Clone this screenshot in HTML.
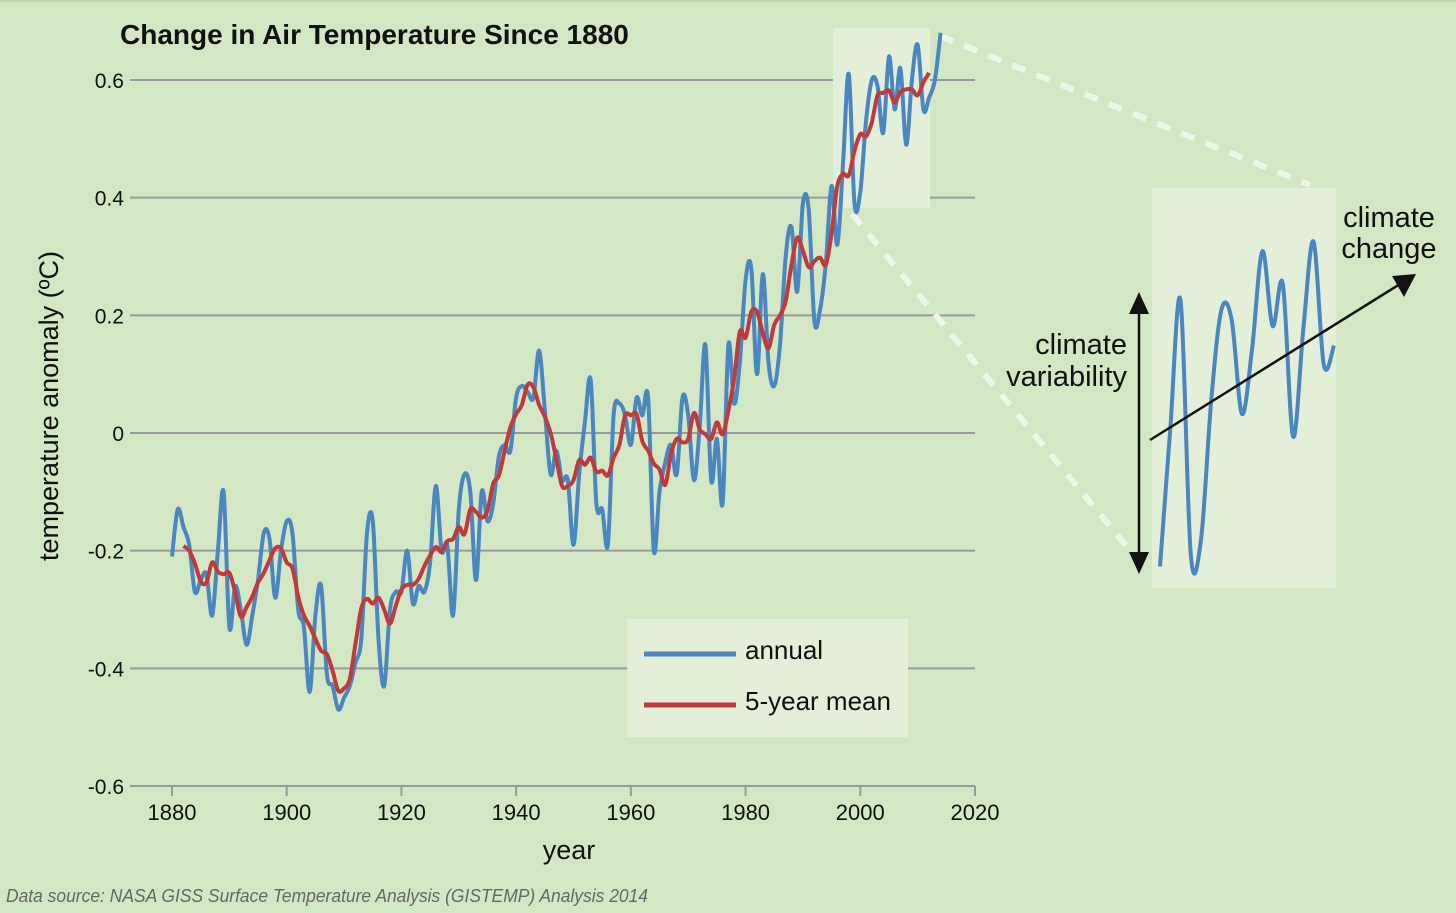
<!DOCTYPE html>
<html><head><meta charset="utf-8"><style>
html,body{margin:0;padding:0;background:#d3e7c4;}
svg{display:block;font-family:"Liberation Sans",sans-serif;}
</style></head><body>
<svg id="chart" width="1456" height="913" viewBox="0 0 1456 913">
<rect x="0" y="0" width="1456" height="913" fill="#d3e7c4"/>
<rect x="0" y="0" width="1456" height="2" fill="#b8d8a8"/>
<g id="grid"></g>
<rect x="833" y="28" width="97" height="180" fill="#e3efd9"/>
<rect x="1152" y="188" width="184" height="400" fill="#e3efd9"/>
<line x1="940" y1="36" x2="1310" y2="185" stroke="#eef6e8" stroke-width="6" stroke-dasharray="14,12"/>
<line x1="852" y1="214" x2="1128" y2="548" stroke="#eef6e8" stroke-width="6" stroke-dasharray="14,12"/>
<g id="axes"></g>
<g id="series"></g>
<text x="120" y="44" font-size="28" font-weight="bold" fill="#111">Change in Air Temperature Since 1880</text>
<text x="0" y="0" transform="translate(58,406) rotate(-90)" text-anchor="middle" font-size="27" fill="#111">temperature anomaly (ºC)</text>
<text x="569" y="859" text-anchor="middle" font-size="27" fill="#111">year</text>
<text x="6" y="902" font-size="18" font-style="italic" fill="#666" textLength="642" lengthAdjust="spacingAndGlyphs">Data source: NASA GISS Surface Temperature Analysis (GISTEMP) Analysis 2014</text>
<g>
<rect x="627" y="619" width="281" height="118" fill="#e3efd9"/>
<line x1="644" y1="654" x2="736" y2="654" stroke="#4a86c0" stroke-width="5"/>
<text x="745" y="659" font-size="26" fill="#111">annual</text>
<line x1="644" y1="705" x2="736" y2="705" stroke="#c0393b" stroke-width="5"/>
<text x="745" y="710" font-size="26" fill="#111">5-year mean</text>
</g>
<g id="inset"></g>
<text x="1389" y="227" text-anchor="middle" font-size="29" fill="#111">climate</text>
<text x="1389" y="258" text-anchor="middle" font-size="29" fill="#111">change</text>
<text x="1127" y="354" text-anchor="end" font-size="29" fill="#111">climate</text>
<text x="1127" y="386" text-anchor="end" font-size="29" fill="#111">variability</text>
</svg>
<script>
const years=[];for(let y=1880;y<=2014;y++)years.push(y);
const annual=[-0.21,-0.13,-0.16,-0.19,-0.27,-0.25,-0.24,-0.31,-0.2,-0.1,-0.33,-0.26,-0.3,-0.36,-0.31,-0.25,-0.17,-0.18,-0.28,-0.2,-0.15,-0.17,-0.3,-0.33,-0.44,-0.31,-0.26,-0.41,-0.43,-0.47,-0.45,-0.43,-0.39,-0.35,-0.17,-0.15,-0.35,-0.43,-0.3,-0.27,-0.27,-0.2,-0.29,-0.26,-0.27,-0.22,-0.09,-0.2,-0.19,-0.31,-0.13,-0.07,-0.1,-0.25,-0.1,-0.15,-0.12,-0.04,-0.02,-0.03,0.06,0.08,0.07,0.06,0.14,0.04,-0.07,-0.03,-0.08,-0.08,-0.19,-0.07,0.02,0.09,-0.12,-0.13,-0.19,0.03,0.05,0.03,-0.02,0.06,0.03,0.06,-0.2,-0.1,-0.05,-0.02,-0.07,0.06,0.03,-0.08,0.01,0.15,-0.08,-0.01,-0.12,0.15,0.05,0.12,0.26,0.28,0.1,0.27,0.12,0.08,0.15,0.3,0.35,0.24,0.39,0.38,0.19,0.21,0.29,0.42,0.32,0.46,0.61,0.39,0.41,0.53,0.6,0.59,0.51,0.64,0.55,0.62,0.49,0.6,0.66,0.55,0.57,0.6,0.68];
const yTicks=[-0.6,-0.4,-0.2,0,0.2,0.4,0.6];
const yTickLabels=["-0.6","-0.4","-0.2","0","0.2","0.4","0.6"];
const xTicks=[1880,1900,1920,1940,1960,1980,2000,2020];
const insetVals=[-0.42,0,0.4,-0.38,-0.34,0.09,0.37,0.34,0.05,0.25,0.55,0.32,0.45,-0.02,0.31,0.58,0.2,0.26];
const NS="http://www.w3.org/2000/svg";
const X=y=>172+(y-1880)*(975-172)/140;
const Y=v=>433-v*(433-80)/0.6;
function mk(tag,attrs,parent){const e=document.createElementNS(NS,tag);for(const k in attrs)e.setAttribute(k,attrs[k]);parent.appendChild(e);return e;}
function smooth(pts){let d="M"+pts[0][0].toFixed(1)+","+pts[0][1].toFixed(1);
for(let i=0;i<pts.length-1;i++){const p0=pts[Math.max(0,i-1)],p1=pts[i],p2=pts[i+1],p3=pts[Math.min(pts.length-1,i+2)];
const c1=[p1[0]+(p2[0]-p0[0])/6,p1[1]+(p2[1]-p0[1])/6],c2=[p2[0]-(p3[0]-p1[0])/6,p2[1]-(p3[1]-p1[1])/6];
d+=" C"+c1[0].toFixed(1)+","+c1[1].toFixed(1)+" "+c2[0].toFixed(1)+","+c2[1].toFixed(1)+" "+p2[0].toFixed(1)+","+p2[1].toFixed(1);}return d;}
const grid=document.getElementById('grid'),axes=document.getElementById('axes'),series=document.getElementById('series'),inset=document.getElementById('inset');
yTicks.forEach((t,i)=>{
const l=mk('line',{x1:130,x2:975,y1:Y(t),y2:Y(t),stroke:'#9a9a9a','stroke-width':2},grid);


const tx=mk('text',{x:124,y:Y(t)+8,'text-anchor':'end','font-size':21,fill:'#111'},axes);tx.textContent=yTickLabels[i];


});
xTicks.forEach(t=>{
const l=mk('line',{x1:X(t),x2:X(t),y1:786,y2:796,stroke:'#9a9a9a','stroke-width':2},axes);


const tx=mk('text',{x:X(t),y:820,'text-anchor':'middle','font-size':22,fill:'#111'},axes);tx.textContent=t;


});
const a=mk('path',{d:smooth(years.map((y,i)=>[X(y),Y(annual[i])])),fill:'none',stroke:'#4a86c0','stroke-width':4,'stroke-linejoin':'round'},series);


const mp=[];for(let i=2;i<annual.length-2;i++){let s=0;for(let k=-2;k<=2;k++)s+=annual[i+k];mp.push([X(years[i]),Y(s/5)]);}
const m=mk('path',{d:smooth(mp),fill:'none',stroke:'#c0393b','stroke-width':4,'stroke-linejoin':'round'},series);


const IX=i=>1160+i*(1334-1160)/(insetVals.length-1);
const IY=v=>430-v*325;
const ip=mk('path',{d:smooth(insetVals.map((v,i)=>[IX(i),IY(v)])),fill:'none',stroke:'#4a86c0','stroke-width':4},inset);


const va=mk('line',{x1:1139,y1:310,x2:1139,y2:560,stroke:'#111','stroke-width':2.5},inset);


const h1=mk('polygon',{points:'1139,292 1129,314 1149,314',fill:'#111'},inset);


const h2=mk('polygon',{points:'1139,574 1129,552 1149,552',fill:'#111'},inset);


const ca=mk('line',{x1:1150,y1:440,x2:1400,y2:284,stroke:'#111','stroke-width':2.5},inset);


const h3=mk('polygon',{points:'1416,274 1392,276 1404,297',fill:'#111'},inset);


</script>
</body></html>
